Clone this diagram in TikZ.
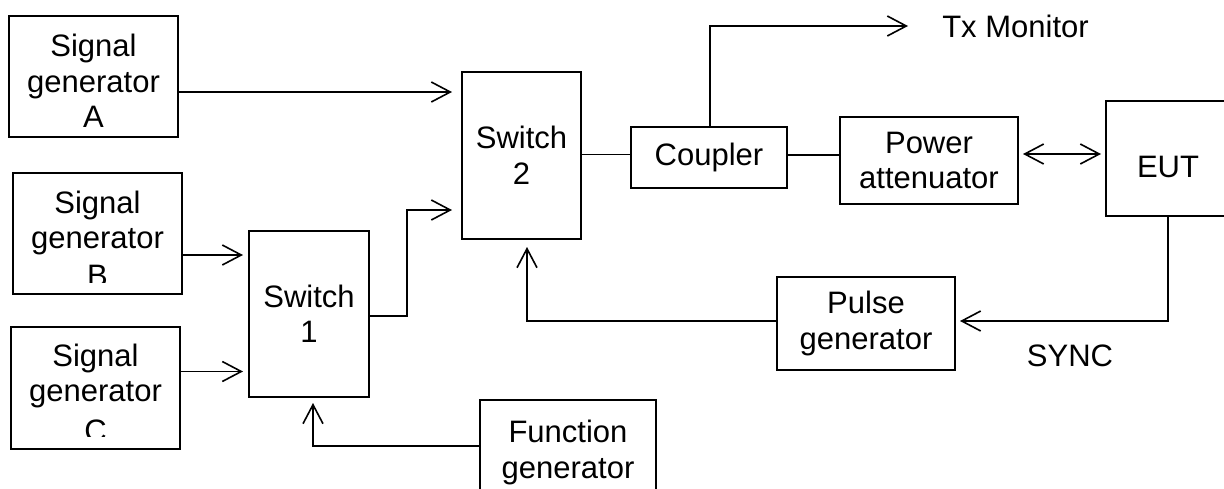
\documentclass[tikz,border=0pt]{standalone}
\usepackage{fontspec}
\setmainfont{Liberation Sans}
\usetikzlibrary{arrows.meta}
\begin{document}
\begin{tikzpicture}[x=1pt,y=-1pt,
  blk/.style 2 args={draw,line width=1.6pt,inner sep=0pt,outer sep=0pt,
    minimum width=#1,minimum height=#2,align=center,
    font=\fontsize{31}{35.5}\selectfont},
  lbl/.style={align=center,inner sep=0pt,font=\fontsize{31}{35.5}\selectfont},
  wire/.style={line width=1.6pt},
  arr/.style={wire,-{Straight Barb[length=19pt,width=20pt]}},
  darr/.style={wire,{Straight Barb[length=19pt,width=20pt]}-{Straight Barb[length=19pt,width=20pt]}}]
\useasboundingbox (0,0) rectangle (1224,488);

% signal generators
\node[blk={169}{121}] (sa) at (93.5,76.5) {};
\node[lbl] (ta) at (93.5,81) {Signal\\generator\\A};
\node[blk={169}{121}] (sb) at (97.5,233.5) {};
\begin{scope}
  \clip (13,173) rectangle (182,282);
  \node[lbl] (tb) at (97.5,238.5) {Signal\\generator\\[2pt]B};
\end{scope}
\node[blk={169}{122}] (sc) at (95.5,388) {};
\begin{scope}
  \clip (11,327) rectangle (180,436);
  \node[lbl] (tc) at (95.5,392.5) {Signal\\generator\\[4pt]C};
\end{scope}

% switches and other blocks
\node[blk={120}{166}] (sw1) at (309,314) {Switch\\1};
\node[blk={119}{167}] (sw2) at (521.5,155.5) {Switch\\2};
\node[blk={156}{61}] (cp) at (709,157.5) {Coupler};
\node[blk={178}{87}] (pa) at (929,160.5) {Power\\attenuator};
\node[blk={124}{115}] (eut) at (1168,158.5) {};
\node[lbl] (teut) at (1168,167) {EUT};
\node[blk={178}{93}] (pg) at (866,323.5) {Pulse\\generator};
\node[blk={176}{105}] (fg) at (568,452.5) {Function\\generator};

% free labels
\node[lbl] (tx) at (1015.5,26) {Tx Monitor};
\node[lbl] (sync) at (1070,356) {SYNC};
\coordinate (txend) at (908,26);

% connectors
\draw[arr,shorten >=10pt] (sa.east |- 0,92) -- (sw2.west |- 0,92);
\draw[arr,shorten >=6pt] (sb.east |- 0,255) -- (sw1.west |- 0,255);
\draw[arr,shorten >=6pt] (sc.east |- 0,371.5) -- (sw1.west |- 0,371.5);
\draw[arr,shorten >=10pt] (sw1.east |- 0,316) -- (407,316) |- (sw2.west |- 0,210);
\draw[arr,shorten >=6pt] (fg.west |- 0,446) -| ([xshift=4pt]sw1.south);
\draw[arr,shorten >=8pt] (pg.west |- 0,321) -| ([xshift=5.5pt]sw2.south);
\draw[wire] (sw2.east |- 0,154.5) -- (cp.west |- 0,154.5);
\draw[arr] ([xshift=1pt]cp.north) |- (txend);
\draw[wire] (cp.east |- 0,155) -- (pa.west |- 0,155);
\draw[darr,shorten <=5pt,shorten >=5pt] (pa.east |- 0,154) -- (eut.west |- 0,154);
\draw[arr,shorten >=5pt] (eut.south) |- (pg.east |- 0,321);
\end{tikzpicture}
\end{document}
